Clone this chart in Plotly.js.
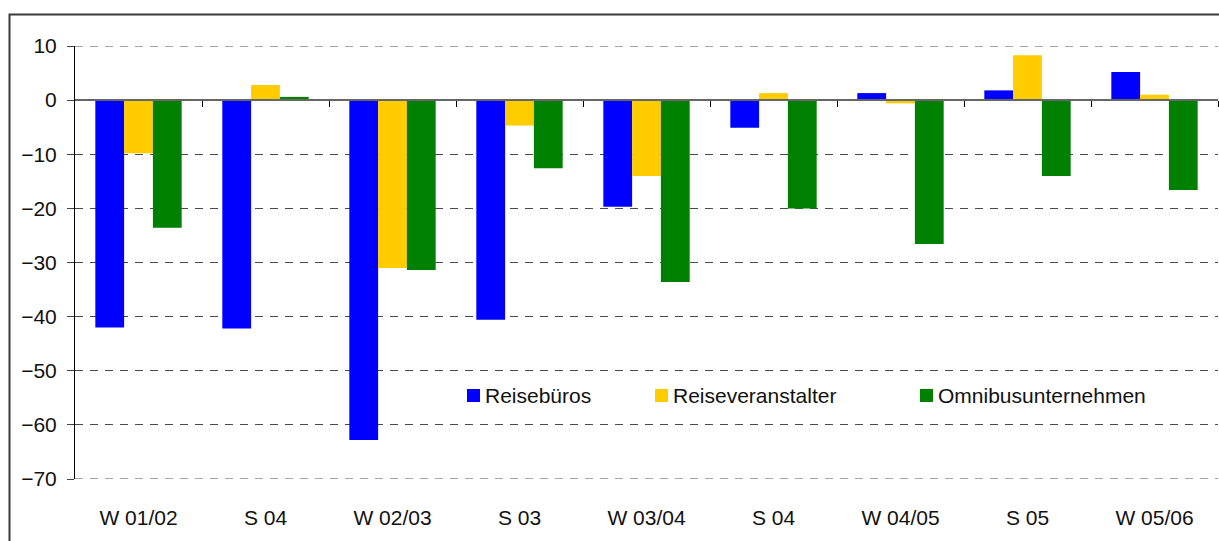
<!DOCTYPE html>
<html>
<head>
<meta charset="utf-8">
<script src="https://cdn.plot.ly/plotly-3.0.1.min.js"></script>
<style>
  html, body { margin: 0; padding: 0; background: #fff; overflow: hidden; }
  #chart { width: 1219px; height: 541px; }
</style>
</head>
<body>
<div id="chart"></div>
<script>
// ---- data ----
const categories = ["W 01/02", "S 04", "W 02/03", "S 03", "W 03/04", "S 04", "W 04/05", "S 05", "W 05/06"];
const seriesNames = ["Reisebüros", "Reiseveranstalter", "Omnibusunternehmen"];
const reisebueros = [-42, -42.2, -62.8, -40.6, -19.7, -5.1, 1.3, 1.8, 5.2];
const reiseveranstalter = [-9.8, 2.8, -31.0, -4.7, -14.0, 1.3, -0.6, 8.3, 1.0];
const omnibus = [-23.6, 0.6, -31.4, -12.6, -33.6, -20.0, -26.6, -14.0, -16.6];
const yTicks = [10, 0, -10, -20, -30, -40, -50, -60, -70];

// ---- layout helpers ----
const W = 1219, H = 541;
const L = 75, R = 1218, T = 46, B = 479;
const px = v => (v - L) / (R - L);
const py = v => (B - v) / (B - T);
const colors = ["#0000FF", "#FFCC00", "#008000"];
const fontFam = "Liberation Sans, Arial, sans-serif";
const gridColor = "#4a4a4a";
const gridDash = "8px,7px";
const idx = categories.map((_, i) => i);
const bounds = categories.map((_, i) => i + 0.5);

const values = [reisebueros, reiseveranstalter, omnibus];
const traces = values.map((v, k) => ({
  type: "bar", x: idx, y: v, name: seriesNames[k],
  marker: { color: colors[k], line: { width: 0 } },
  showlegend: false, hoverinfo: "skip"
}));
// invisible trace to hold the zero-line axis with category boundary ticks
traces.push({ type: "scatter", x: [-0.5, 8.5], y: [0, 0], xaxis: "x2", mode: "lines",
  line: { width: 0, color: "rgba(0,0,0,0)" }, showlegend: false, hoverinfo: "skip" });

const shapes = [];
const annotations = [];
// gridlines at the range ends (Plotly omits them at the plot edges)
[yTicks[0], yTicks[yTicks.length - 1]].forEach(v => {
  shapes.push({ type: "line", xref: "paper", yref: "y", x0: 0, x1: 1, y0: v, y1: v,
    line: { color: gridColor, width: 1, dash: gridDash }, layer: "below" });
});
// manual legend
const legendSquares = [467, 655, 920];
const legendY = 395;
legendSquares.forEach((sx, k) => {
  shapes.push({ type: "rect", xref: "paper", yref: "paper",
    x0: px(sx), x1: px(sx + 13), y0: py(legendY + 7), y1: py(legendY - 6),
    fillcolor: colors[k], line: { width: 0 } });
  annotations.push({ xref: "paper", yref: "paper", x: px(sx + 16), y: py(legendY),
    xanchor: "left", yanchor: "middle", showarrow: false, text: seriesNames[k],
    font: { family: fontFam, size: 21, color: "#111" } });
});
// outer frame
shapes.push({ type: "rect", xref: "paper", yref: "paper",
  x0: px(9.5), y1: py(14.5), x1: px(1260), y0: py(600),
  line: { color: "#3a3a3a", width: 2 }, fillcolor: "rgba(0,0,0,0)", layer: "below" });

const layout = {
  width: W, height: H,
  margin: { l: L, r: W - R, t: T, b: H - B, pad: 0 },
  paper_bgcolor: "#fff", plot_bgcolor: "#fff",
  barmode: "group", bargap: 0.32, bargroupgap: 0,
  showlegend: false,
  font: { family: fontFam, size: 21, color: "#111" },
  xaxis: {
    range: [-0.5, 8.5], tickvals: idx, ticktext: categories,
    showgrid: false, zeroline: false, showline: false, ticks: "",
    ticklabelstandoff: 24, tickfont: { family: fontFam, size: 21, color: "#111" },
    fixedrange: true
  },
  xaxis2: {
    overlaying: "x", anchor: "free", position: py(100),
    range: [-0.5, 8.5], tickvals: bounds, showticklabels: false,
    ticks: "outside", ticklen: 6, tickcolor: "#000", tickwidth: 1,
    showline: true, linecolor: "#666", linewidth: 2,
    showgrid: false, zeroline: false, side: "bottom"
  },
  yaxis: {
    range: [-70, 10], tickvals: yTicks,
    ticks: "outside", ticklen: 7, tickcolor: "#444", tickwidth: 1,
    ticklabelstandoff: 6,
    showline: true, linecolor: "#000", linewidth: 1,
    showgrid: true, gridcolor: gridColor, gridwidth: 1, griddash: gridDash,
    zeroline: false,
    tickfont: { family: fontFam, size: 21, color: "#111" }
  },
  shapes: shapes,
  annotations: annotations
};

Plotly.newPlot("chart", traces, layout, { staticPlot: true, displayModeBar: false });
</script>
</body>
</html>
